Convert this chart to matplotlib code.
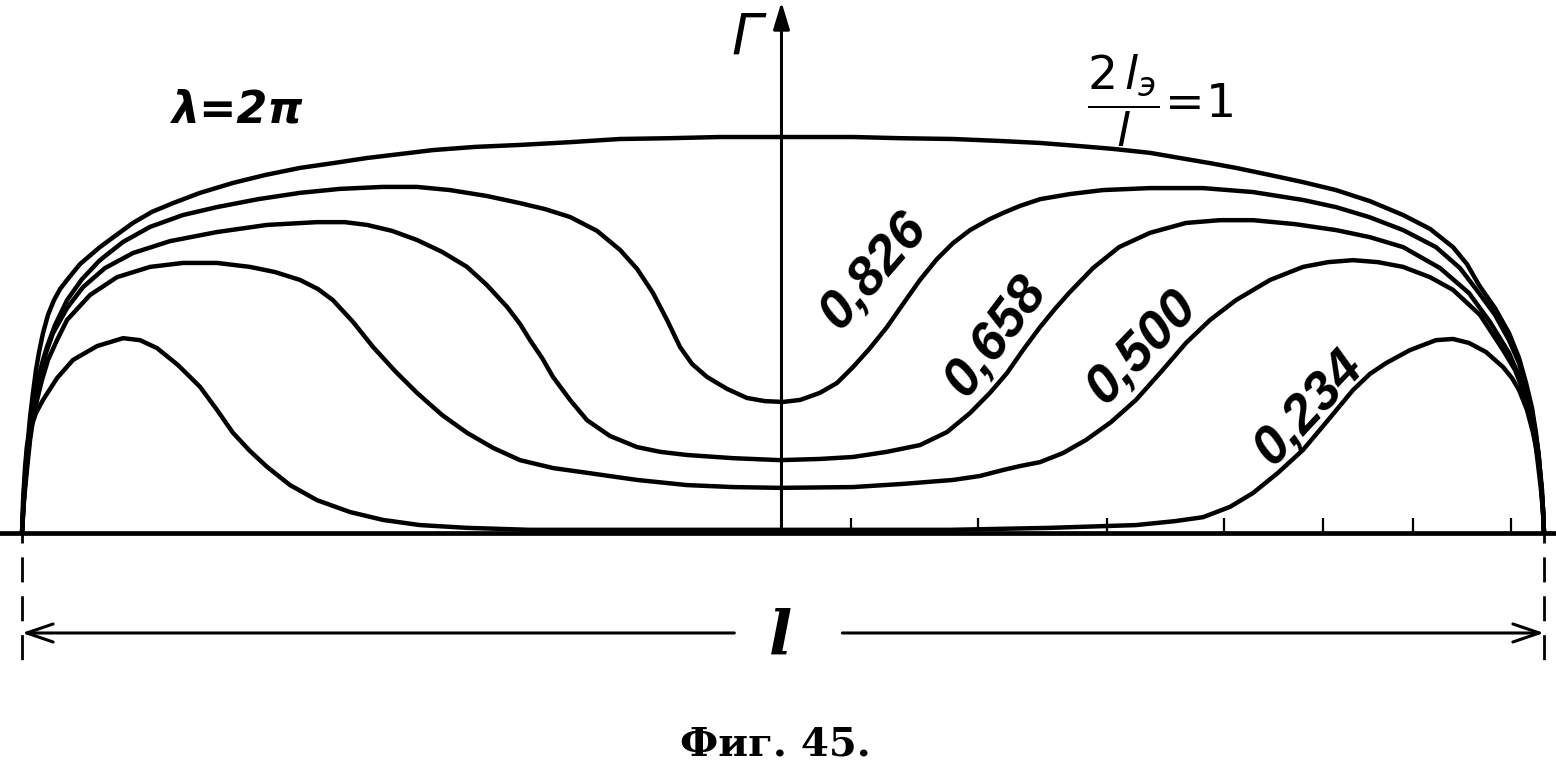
import numpy as np
import matplotlib.pyplot as plt

# x: position along the span, percent of l (0 .. 100)
# g: circulation Gamma, relative units (top curve peak = 100)

# 2l_э/l = 1
x_1 = [0, 0.07, 0.13, 0.23, 0.33, 0.53, 0.72, 0.92, 1.12, 1.38, 1.71, 2.10, 2.50, 2.96,
       3.81, 5.12, 6.11, 7.29, 8.54, 9.92, 11.70, 13.86, 15.97, 18.27, 20.43, 22.67,
       24.84, 27.00, 29.76, 32.72, 36.01, 39.29, 42.58, 45.86, 49.80, 54.60, 57.69,
       61.17, 64.26, 66.89, 69.51, 71.68, 74.11, 76.08, 78.06, 79.76, 82.00, 84.17,
       86.33, 88.57, 90.74, 92.51, 94.02, 94.94, 95.73, 96.78, 97.70, 98.36, 98.82,
       99.21, 99.47, 99.67, 99.80, 99.93, 100]
g_1 = [0, 5.8, 10.9, 15.9, 21.0, 29.3, 35.4, 41.2, 45.7, 50.5, 55.1, 58.8, 61.6, 63.9,
       67.9, 72.2, 75.0, 78.3, 81.1, 83.3, 85.9, 88.4, 90.4, 92.2, 93.4, 94.7,
       95.7, 96.7, 97.5, 98.0, 98.7, 99.5, 99.7, 100, 100, 100, 99.7,
       99.5, 99.0, 98.5, 97.7, 97.0, 96.0, 94.7, 93.4, 92.2, 90.4, 88.6,
       86.6, 83.8, 80.3, 76.8, 72.2, 67.9, 62.6, 56.8, 50.5, 44.2, 37.9,
       31.6, 25.3, 18.9, 12.6, 6.3, 0]

x_826 = [0, 0.10, 0.20, 0.30, 0.39, 0.53, 0.66, 0.85, 1.12, 1.38, 1.64, 2.17, 2.96, 3.94,
         5.12, 6.64, 8.41, 10.58, 12.81, 15.51, 18.27, 20.89, 23.72, 25.95, 28.12, 30.55,
         32.72, 34.36, 36.01, 37.78, 39.29, 40.41, 41.46, 42.38, 43.23, 44.02, 45.01,
         46.32, 47.63, 48.82, 50.0, 51.12, 52.43, 53.55, 54.60, 55.72, 56.83, 57.88,
         59.00, 60.12, 61.17, 62.29, 63.60, 64.45, 65.57, 66.89, 68.86, 71.02, 74.11,
         77.60, 80.88, 84.17, 86.33, 88.50, 90.74, 92.90, 94.48, 95.73, 96.78, 97.70,
         98.36, 98.82, 99.21, 99.47, 99.67, 99.80, 99.93, 100]
g_826 = [0, 7.1, 13.4, 17.9, 22.2, 26.0, 29.3, 34.8, 39.9, 43.7, 47.0, 52.5, 58.8, 64.1,
         68.9, 73.5, 77.3, 80.3, 82.3, 84.3, 85.9, 86.9, 87.4, 87.4, 86.6, 85.1,
         83.3, 81.8, 79.8, 76.3, 71.5, 66.7, 60.6, 53.8, 47.0, 42.7, 39.4,
         36.4, 34.1, 33.3, 33.1, 33.6, 35.4, 37.9, 41.9, 46.7, 52.0, 57.8,
         63.9, 69.2, 73.2, 76.5, 79.3, 80.8, 82.6, 84.3, 85.6, 86.6, 87.1,
         87.1, 86.1, 84.1, 82.3, 79.8, 76.5, 72.2, 66.9, 60.6, 55.1, 48.7,
         42.9, 36.6, 30.6, 24.7, 18.4, 12.6, 6.3, 0]

x_658 = [0, 0.10, 0.20, 0.33, 0.46, 0.59, 0.72, 0.99, 1.25, 1.64, 2.04, 2.96, 4.01, 5.45,
         7.29, 9.72, 12.81, 16.10, 19.38, 21.22, 22.67, 24.31, 25.95, 27.60, 29.24, 30.55,
         31.87, 32.72, 33.38, 34.17, 34.89, 36.01, 37.12, 38.63, 40.41, 41.92, 43.69,
         46.71, 49.80, 52.43, 54.60, 56.83, 59.00, 60.78, 62.29, 63.60, 64.72, 65.77,
         66.89, 67.87, 68.79, 70.37, 72.08, 74.11, 76.48, 78.71, 80.88, 83.64, 86.33,
         88.57, 90.74, 93.17, 95.07, 96.45, 97.70, 98.42, 98.95, 99.34, 99.61, 99.74,
         99.87, 99.93, 100]
g_658 = [0, 6.3, 12.1, 17.7, 22.2, 26.8, 31.1, 36.6, 41.2, 46.2, 50.5, 56.8, 62.1, 66.9,
         70.7, 73.7, 76.0, 77.8, 78.5, 78.5, 77.8, 76.3, 74.0, 71.0, 67.2, 62.6,
         57.1, 52.8, 48.7, 44.2, 39.4, 33.6, 28.5, 24.5, 21.7, 20.5, 19.7,
         18.9, 18.4, 18.7, 19.2, 20.5, 22.2, 25.5, 30.3, 35.4, 40.4, 46.2,
         52.0, 56.6, 60.6, 66.9, 72.2, 75.8, 78.3, 79.0, 79.0, 78.0, 76.5,
         74.7, 72.2, 66.9, 60.6, 53.3, 45.5, 39.1, 33.6, 27.3, 21.0, 15.9,
         10.9, 5.8, 0]

x_500 = [0, 0.10, 0.26, 0.39, 0.53, 0.72, 0.99, 1.31, 1.71, 2.30, 2.96, 4.47, 6.24, 8.41,
         10.58, 12.81, 14.98, 16.62, 18.27, 19.45, 20.43, 21.75, 23.06, 24.51, 25.95,
         27.60, 29.24, 30.95, 32.72, 34.89, 37.12, 40.41, 43.69, 46.71, 49.80, 54.60,
         57.88, 61.17, 62.94, 64.45, 65.57, 66.89, 68.40, 69.91, 71.55, 73.19, 74.84,
         76.48, 78.06, 79.76, 82.00, 84.17, 85.81, 87.45, 89.09, 90.74, 92.51, 94.02,
         95.79, 97.31, 98.09, 98.62, 99.08, 99.41, 99.61, 99.80, 99.93, 100]
g_500 = [0, 7.1, 13.4, 18.4, 23.5, 28.5, 33.6, 38.6, 43.7, 48.7, 53.8, 60.1, 64.6, 67.2,
         68.2, 68.2, 67.2, 65.9, 63.9, 61.6, 58.8, 53.3, 47.0, 40.9, 35.4,
         29.8, 25.3, 21.5, 18.4, 16.4, 15.2, 13.4, 12.1, 11.6, 11.4, 11.6,
         12.4, 13.4, 14.4, 15.9, 16.9, 17.9, 20.2, 23.5, 28.0, 33.6, 40.7,
         48.0, 53.8, 58.8, 63.9, 67.2, 68.4, 68.9, 68.4, 67.2, 64.6, 61.4,
         55.1, 46.2, 41.2, 36.1, 29.8, 23.5, 17.2, 10.9, 5.3, 0]

x_234 = [0, 0.07, 0.20, 0.33, 0.53, 0.92, 1.38, 2.30, 3.35, 4.93, 6.64, 7.75, 8.87, 10.25,
         11.70, 12.81, 13.86, 14.98, 16.10, 17.61, 19.38, 21.55, 23.72, 26.15, 29.24,
         33.38, 37.98, 49.80, 60.97, 67.54, 73.19, 75.76, 77.60, 79.37, 80.88, 82.52,
         84.17, 85.81, 87.45, 88.57, 89.62, 91.20, 92.90, 94.02, 95.07, 96.19, 97.31,
         97.90, 98.36, 98.88, 99.28, 99.61, 99.80, 99.93, 100]
g_234 = [0, 8.3, 16.7, 22.2, 26.0, 30.3, 33.6, 39.1, 43.7, 47.2, 49.2, 48.7, 46.7, 42.4,
         36.9, 31.1, 25.3, 20.7, 16.7, 12.1, 8.3, 5.3, 3.3, 2.0, 1.3,
         0.8, 0.8, 0.8, 0.8, 1.3, 2.0, 3.0, 4.0, 6.6, 10.1, 15.2,
         21.0, 28.5, 36.1, 40.2, 42.9, 46.2, 48.7, 49.0, 48.0, 45.7, 41.9,
         39.1, 36.1, 31.1, 25.3, 18.9, 12.6, 6.3, 0]

curves = [(x_1, g_1), (x_826, g_826), (x_658, g_658), (x_500, g_500), (x_234, g_234)]

labels = ['0,826', '0,658', '0,500', '0,234']
label_x = [56.0, 64.0, 73.6, 84.6]
label_g = [66.2, 49.7, 46.9, 31.5]
label_rot = [49, 53, 46, 47]

tick_x = [54.5, 62.8, 71.3, 79.0, 85.5, 91.4, 97.8]

# ---------------------------------------------------------------

fig = plt.figure(figsize=(15.56, 7.74), dpi=100)
ax = fig.add_axes([0, 0, 1, 1])
ax.set_xlim(-1.4455, 100.788)
ax.set_ylim(-60.86, 134.6)
ax.axis('off')

for xs, gs in curves:
    ax.plot(xs, gs, color='black', lw=3.2, solid_joinstyle='round', solid_capstyle='round')

# baseline and small ticks
ax.plot([-1.5, 101], [0, 0], color='black', lw=3.4)
ax.vlines(tick_x, 0, 3.8, color='black', lw=1.6)

# vertical Gamma axis
ax.annotate('', xy=(49.9, 134.1), xytext=(49.9, 0),
            arrowprops=dict(arrowstyle='-|>,head_length=1.65,head_width=0.5',
                            lw=2.2, color='black', shrinkA=0, shrinkB=0))

# dimension lines for l
for xe in [0, 100]:
    ax.plot([xe, xe], [3.8, -33.8], color='black', lw=2, linestyle=(0, (9, 5)))
ax.annotate('', xy=(0, -25.25), xytext=(46.8, -25.25),
            arrowprops=dict(arrowstyle='->,head_length=1.9,head_width=0.65',
                            lw=2.2, color='black', shrinkA=0, shrinkB=0))
ax.annotate('', xy=(100, -25.25), xytext=(53.9, -25.25),
            arrowprops=dict(arrowstyle='->,head_length=1.9,head_width=0.65',
                            lw=2.2, color='black', shrinkA=0, shrinkB=0))
ax.text(49.87, -26.5, 'l', fontsize=44, style='italic', fontweight='bold',
        ha='center', va='center', family='DejaVu Serif')

# texts
ax.text(47.6, 124.8, 'Γ', fontsize=40, style='italic', ha='center', va='center')
ax.text(14.2, 106.8, 'λ=2π', fontsize=32, style='italic', fontweight='bold',
        ha='center', va='center')
ax.text(74.8, 109.3, r'$\dfrac{2\,l_{э}}{l}\!=\!1$', fontsize=34,
        ha='center', va='center')

for lab, lx, lg, rot in zip(labels, label_x, label_g, label_rot):
    ax.text(lx, lg, lab, fontsize=39, style='italic', fontweight='bold',
            family='Liberation Sans', rotation=rot, rotation_mode='anchor',
            ha='center', va='center')

ax.text(49.47, -53.5, 'Фиг. 45.', fontsize=29, family='DejaVu Serif',
        fontweight='bold', ha='center', va='center')

plt.savefig('out.png', dpi=100)
